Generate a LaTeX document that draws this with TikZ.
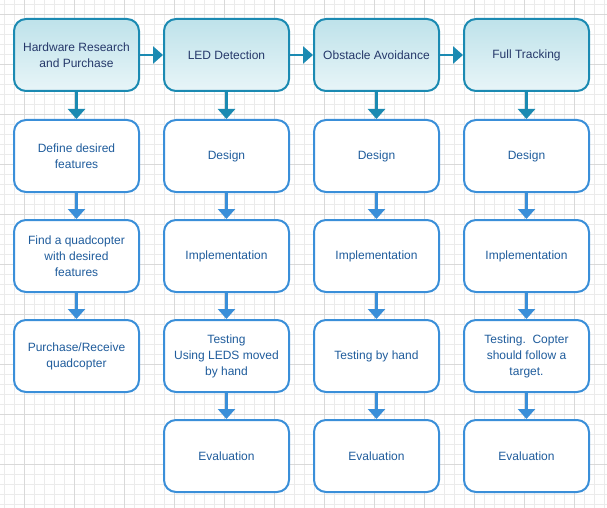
\documentclass[tikz,border=0pt]{standalone}
\usepackage{fontspec}
\setmainfont{Liberation Sans}
\usetikzlibrary{arrows.meta}
\definecolor{gminor}{HTML}{EBEBEB}
\definecolor{gmajor}{HTML}{D9D9D9}
\definecolor{teal1}{HTML}{1B8AB2}
\definecolor{blue1}{HTML}{3A8FD9}
\definecolor{topA}{HTML}{BEE2EA}
\definecolor{topB}{HTML}{E8F5F8}
\definecolor{txtA}{HTML}{25386A}
\definecolor{txtB}{HTML}{1F5C9C}
\tikzset{
  phase/.style={draw=teal1, line width=2pt, rounded corners=12pt, top color=topA, bottom color=topB,
    minimum width=125pt, minimum height=72pt, align=center, text=txtA,
    font=\fontsize{12}{16}\selectfont, inner sep=2pt},
  stepbox/.style={draw=blue1, line width=2pt, rounded corners=12pt, fill=white,
    minimum width=125pt, minimum height=72pt, align=center, text=txtB,
    font=\fontsize{12}{16}\selectfont, inner sep=2pt},
  arrA/.style={draw=teal1, line width=2.5pt, -{Triangle[width=17pt,length=10pt]}},
  arrB/.style={draw=blue1, line width=2.5pt, -{Triangle[width=17pt,length=10pt]}},
}
\begin{document}
\begin{tikzpicture}[x=1pt,y=-1pt]
\useasboundingbox (0,0) rectangle (607,508);
\fill[white] (0,0) rectangle (607,508);
\foreach \x in {4,14,...,604} \draw[gminor, line width=0.8pt] (\x,0) -- (\x,508);
\foreach \y in {4,14,...,504} \draw[gminor, line width=0.8pt] (0,\y) -- (607,\y);
\foreach \x in {24,74,...,574} \draw[gmajor, line width=0.8pt] (\x,0) -- (\x,508);
\foreach \y in {14,64,...,464} \draw[gmajor, line width=0.8pt] (0,\y) -- (607,\y);

% top row
\node[phase] (h1) at (76.5,55) {Hardware Research\\and Purchase};
\node[phase] (h2) at (226.5,55) {LED Detection};
\node[phase] (h3) at (376.5,55) {Obstacle Avoidance};
\node[phase] (h4) at (526.5,55) {Full Tracking};

% column 1
\node[stepbox] (a2) at (76.5,156) {Define desired\\features};
\node[stepbox] (a3) at (76.5,256) {Find a quadcopter\\with desired\\features};
\node[stepbox] (a4) at (76.5,356) {Purchase/Receive\\quadcopter};

% column 2
\node[stepbox] (b2) at (226.5,156) {Design};
\node[stepbox] (b3) at (226.5,256) {Implementation};
\node[stepbox] (b4) at (226.5,356) {Testing\\Using LEDS moved\\by hand};
\node[stepbox] (b5) at (226.5,456) {Evaluation};

% column 3
\node[stepbox] (c2) at (376.5,156) {Design};
\node[stepbox] (c3) at (376.5,256) {Implementation};
\node[stepbox] (c4) at (376.5,356) {Testing by hand};
\node[stepbox] (c5) at (376.5,456) {Evaluation};

% column 4
\node[stepbox] (d2) at (526.5,156) {Design};
\node[stepbox] (d3) at (526.5,256) {Implementation};
\node[stepbox] (d4) at (526.5,356) {Testing.\ \ Copter\\should follow a\\target.};
\node[stepbox] (d5) at (526.5,456) {Evaluation};

% horizontal arrows
\draw[arrA] (h1.east) -- (h2.west);
\draw[arrA] (h2.east) -- (h3.west);
\draw[arrA] (h3.east) -- (h4.west);

% down arrows from top row
\draw[arrA] (h1.south) -- (a2.north);
\draw[arrA] (h2.south) -- (b2.north);
\draw[arrA] (h3.south) -- (c2.north);
\draw[arrA] (h4.south) -- (d2.north);

% down arrows lower
\draw[arrB] (a2.south) -- (a3.north);
\draw[arrB] (a3.south) -- (a4.north);
\draw[arrB] (b2.south) -- (b3.north);
\draw[arrB] (b3.south) -- (b4.north);
\draw[arrB] (b4.south) -- (b5.north);
\draw[arrB] (c2.south) -- (c3.north);
\draw[arrB] (c3.south) -- (c4.north);
\draw[arrB] (c4.south) -- (c5.north);
\draw[arrB] (d2.south) -- (d3.north);
\draw[arrB] (d3.south) -- (d4.north);
\draw[arrB] (d4.south) -- (d5.north);
\end{tikzpicture}
\end{document}
